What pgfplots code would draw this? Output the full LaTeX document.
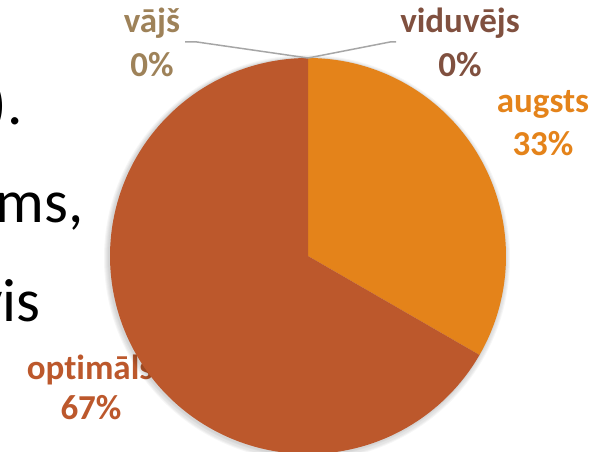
\documentclass[border=0pt]{standalone}
\usepackage{pgfplots}
\pgfplotsset{compat=1.18}
\usepackage{fontspec}
\setmainfont{Carlito}[Ligatures=NoCommon]
\definecolor{cAug}{HTML}{E4831A}
\definecolor{cOpt}{HTML}{BC582C}
\definecolor{cVaj}{HTML}{9E8259}
\definecolor{cVid}{HTML}{80503F}
\definecolor{cLead}{HTML}{A6A6A6}
% shares (percent)
\def\vAug{33.33}
\def\vOpt{66.67}
\def\vVid{0}
\def\vVaj{0}
\def\cx{308}
\def\cy{196}
\def\rr{198}
\begin{document}
\begin{tikzpicture}
\pgfmathsetmacro{\aA}{90}
\pgfmathsetmacro{\aB}{90-3.6*\vAug}
\pgfmathsetmacro{\aC}{\aB-3.6*\vOpt}
\begin{axis}[x=1bp, y=1bp, xmin=0, xmax=603, ymin=0, ymax=452,
  hide axis, clip=false, anchor=origin, at={(0,0)}]
% background slide text
\node[anchor=base east, font=\fontsize{61bp}{70bp}\selectfont] at (axis cs:26,327) {).};
\node[anchor=base east, font=\fontsize{61bp}{70bp}\selectfont] at (axis cs:87,229) {ms,};
\node[anchor=base east, font=\fontsize{61bp}{70bp}\selectfont] at (axis cs:44,130) {vis};
% label under pie
\node[anchor=base, text=cOpt, font=\fontsize{35bp}{40bp}\selectfont\bfseries] at (axis cs:90,72) {opt\kern0pt imāls};
\node[anchor=base, text=cOpt, font=\fontsize{35bp}{40bp}\selectfont\bfseries] at (axis cs:91,32) {67\%};
% soft shadow
\fill[black, opacity=0.035] (axis cs:307,195) circle[radius=199bp];
\fill[black, opacity=0.035] (axis cs:307,195) circle[radius=200bp];
\fill[black, opacity=0.035] (axis cs:307,194) circle[radius=201bp];
\fill[black, opacity=0.035] (axis cs:307,194) circle[radius=202bp];
\fill[black, opacity=0.035] (axis cs:307,194) circle[radius=203bp];
% slices
\addplot[draw=none, fill=cAug, domain=\aB:\aA, samples=120] ({\cx+\rr*cos(x)},{\cy+\rr*sin(x)}) -- (axis cs:\cx,\cy) -- cycle;
\addplot[draw=none, fill=cOpt, domain=\aC:\aB, samples=200] ({\cx+\rr*cos(x)},{\cy+\rr*sin(x)}) -- (axis cs:\cx,\cy) -- cycle;
% leader lines
\addplot[cLead, line width=1.5bp, mark=none] coordinates {(308,394) (197,410) (185,410)};
\addplot[cLead, line width=1.5bp, mark=none] coordinates {(308,394) (390,410) (396,410)};
% labels
\node[anchor=base, text=cVaj, font=\fontsize{35bp}{40bp}\selectfont\bfseries] at (axis cs:152,419) {vājš};
\node[anchor=base, text=cVaj, font=\fontsize{35bp}{40bp}\selectfont\bfseries] at (axis cs:152,375) {0\%};
\node[anchor=base, text=cVid, font=\fontsize{35bp}{40bp}\selectfont\bfseries] at (axis cs:460,419) {viduvējs};
\node[anchor=base, text=cVid, font=\fontsize{35bp}{40bp}\selectfont\bfseries] at (axis cs:460,375) {0\%};
\node[anchor=base, text=cAug, font=\fontsize{35bp}{40bp}\selectfont\bfseries] at (axis cs:543,339) {augsts};
\node[anchor=base, text=cAug, font=\fontsize{35bp}{40bp}\selectfont\bfseries] at (axis cs:543,296) {33\%};
\end{axis}
\pgfresetboundingbox
\path (0,0) rectangle (603bp,452bp);
\end{tikzpicture}
\end{document}
